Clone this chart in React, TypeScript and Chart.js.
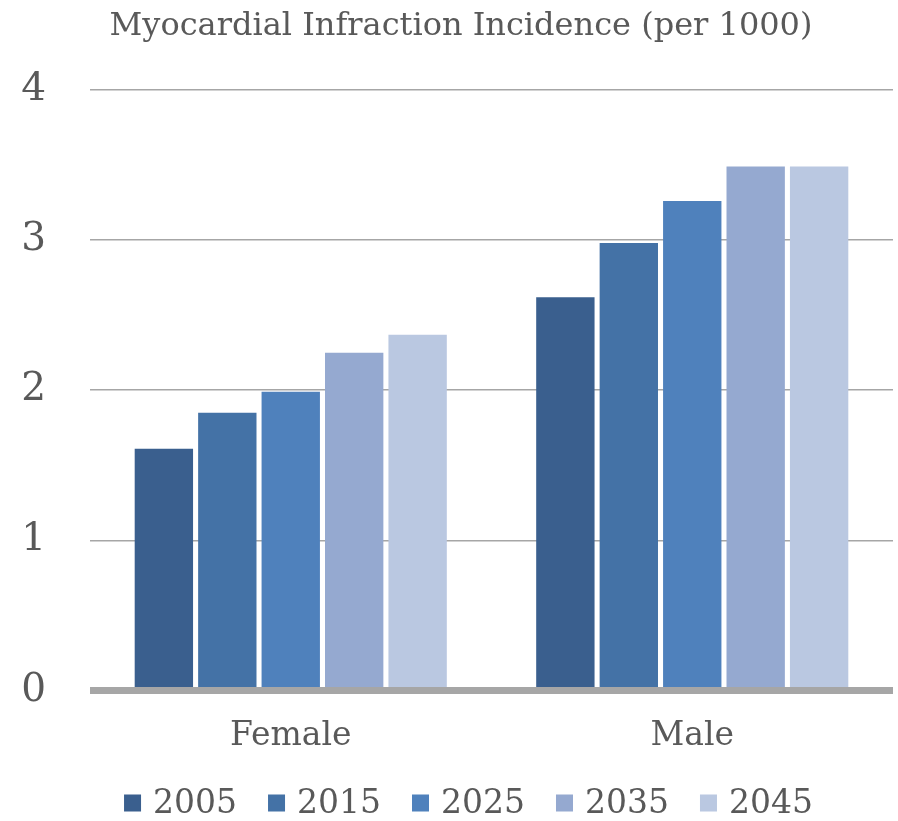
import React, { useEffect, useRef } from "react";
import { Chart, registerables } from "chart.js";

Chart.register(...registerables);

const categories = ["Female", "Male"];
const seriesLabels = ["2005", "2015", "2025", "2035", "2045"];
const values2005 = [1.61, 2.62];
const values2015 = [1.85, 2.98];
const values2025 = [1.99, 3.26];
const values2035 = [2.25, 3.49];
const values2045 = [2.37, 3.49];
const seriesColors = ["#3A5F8E", "#4472A6", "#4F81BC", "#95A9D0", "#BAC8E1"];
const yTicks = [0, 1, 2, 3, 4];
const titleText = "Myocardial Infraction Incidence (per 1000)";

const FONT = "'DejaVu Serif', Georgia, serif";
const TEXT = "#595959";

const decorPlugin = {
  id: "decor",
  afterDraw(chart: any) {
    const ctx = chart.ctx;
    ctx.save();
    // title
    ctx.font = `32px ${FONT}`;
    ctx.fillStyle = TEXT;
    ctx.textAlign = "center";
    ctx.textBaseline = "middle";
    ctx.fillText(titleText, 461, 27);
    // legend
    const box = 17;
    const gap = 12;
    const spacing = 31;
    ctx.font = `33px ${FONT}`;
    const items = chart.data.datasets.map((d: any) => ({
      label: d.label,
      color: d.backgroundColor,
      w: ctx.measureText(d.label).width,
    }));
    const total =
      items.reduce((s: number, it: any) => s + box + gap + it.w, 0) + spacing * (items.length - 1);
    let x = 468.5 - total / 2;
    const y = 803;
    ctx.textAlign = "left";
    for (const it of items) {
      ctx.fillStyle = it.color;
      ctx.fillRect(x, y - box / 2, box, box);
      x += box + gap;
      ctx.fillStyle = TEXT;
      ctx.fillText(it.label, x, y + 1);
      x += it.w + spacing;
    }
    ctx.restore();
  },
};

export default function App() {
  const ref = useRef<HTMLCanvasElement | null>(null);
  useEffect(() => {
    if (!ref.current) return;
    const allValues = [values2005, values2015, values2025, values2035, values2045];
    const chart = new Chart(ref.current, {
      type: "bar",
      data: {
        labels: categories,
        datasets: seriesLabels.map((l, i) => ({
          label: l,
          data: allValues[i],
          backgroundColor: seriesColors[i],
          borderWidth: 0,
          categoryPercentage: 0.79,
          barPercentage: 0.92,
        })),
      },
      plugins: [decorPlugin],
      options: {
        animation: false,
        responsive: false,
        maintainAspectRatio: false,
        layout: { padding: { left: 0, right: 5, top: 90, bottom: 39 } },
        plugins: {
          title: { display: false },
          legend: { display: false },
          tooltip: { enabled: false },
        },
        scales: {
          x: {
            grid: { display: false, drawTicks: false },
            border: { display: false },
            ticks: { color: TEXT, font: { family: FONT, size: 33 }, padding: 26 },
          },
          y: {
            min: 0,
            max: 4,
            afterFit: (s: any) => {
              s.width = 90;
            },
            afterBuildTicks: (s: any) => {
              s.ticks = yTicks.map((v) => ({ value: v }));
            },
            grid: {
              drawTicks: false,
              color: "#A6A6A6",
              lineWidth: (c: any) => (c.tick && c.tick.value === 0 ? 7 : 1.5),
            },
            border: { display: false },
            ticks: {
              color: TEXT,
              font: { family: FONT, size: 39 },
              padding: 44,
            },
          },
        },
      },
    });
    return () => chart.destroy();
  }, []);
  return (
    <div style={{ position: "fixed", left: 0, top: 0, width: 898, height: 821, background: "#fff" }}>
      <canvas ref={ref} width={898} height={821} style={{ width: 898, height: 821 }} />
    </div>
  );
}
